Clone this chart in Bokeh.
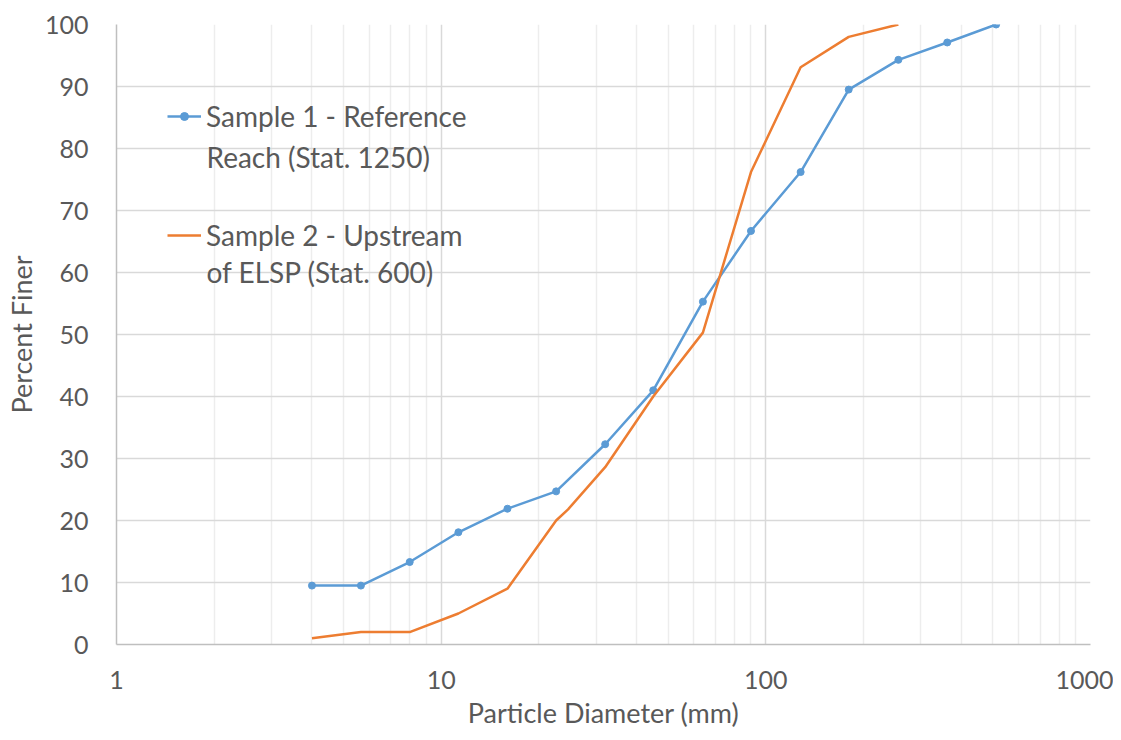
from bokeh.plotting import figure
from bokeh.models import FixedTicker, NumeralTickFormatter, Legend, LegendItem, Label
from bokeh.embed import file_html
from bokeh.resources import INLINE

# Data
s1_diam = [4, 5.66, 8, 11.3, 16, 22.6, 32, 45, 64, 90, 128, 180, 256, 362, 512]
s1_finer = [9.5, 9.5, 13.3, 18.1, 21.9, 24.7, 32.3, 41.0, 55.3, 66.7, 76.2, 89.5, 94.3, 97.1, 100]
s2_diam = [4, 5.66, 8, 11.3, 16, 22.6, 24.6, 32, 45, 64, 90, 128, 180, 256]
s2_finer = [1.0, 2.0, 2.0, 5.0, 9.0, 20.0, 21.8, 28.6, 40.0, 50.3, 76.2, 93.1, 98.0, 100]
s1_label = ["Sample 1 - Reference", "Reach (Stat. 1250)"]
s2_label = ["Sample 2 - Upstream", "of ELSP (Stat. 600)"]
x_major = [1, 10, 100, 1000]
x_minor = [m * d for d in [1, 10, 100] for m in range(2, 10)]
y_ticks = list(range(0, 101, 10))

FONT = "Lato"
TXT = "#595959"

W, H = 1113, 732
FL, FR, FT, FB = 116, 1090, 24, 644

p = figure(width=W, height=H, x_axis_type="log", x_range=(1, 1000), y_range=(0, 100),
           output_backend="svg", toolbar_location=None,
           min_border_left=FL, min_border_right=W - FR, min_border_top=FT, min_border_bottom=H - FB)
p.outline_line_color = None
p.background_fill_color = "white"

blue = "#5B9BD5"
orange = "#ED7D31"
l1 = p.line(s1_diam, s1_finer, line_color=blue, line_width=2.5)
c1 = p.scatter(s1_diam, s1_finer, size=7, fill_color=blue, line_color=blue)
l2 = p.line(s2_diam, s2_finer, line_color=orange, line_width=2.5)

# Axes
xt = FixedTicker(ticks=x_major, minor_ticks=x_minor)
p.xaxis.ticker = xt
p.xaxis.formatter = NumeralTickFormatter(format="0")
p.yaxis.ticker = FixedTicker(ticks=y_ticks)
for ax in (p.xaxis, p.yaxis):
    ax.major_label_text_font = FONT
    ax.major_label_text_font_size = "25px"
    ax.major_label_text_color = TXT
    ax.axis_label_text_font = FONT
    ax.axis_label_text_font_size = "27px"
    ax.axis_label_text_color = TXT
    ax.axis_label_text_font_style = "normal"
    ax.major_tick_line_color = None
    ax.minor_tick_line_color = None
    ax.axis_line_color = "#BFBFBF"
    ax.axis_line_width = 1.5
p.xaxis.axis_label = "Particle Diameter (mm)"
p.yaxis.axis_label = "Percent Finer"
p.xaxis.major_label_standoff = 20
p.yaxis.major_label_standoff = 22
p.xaxis.axis_label_standoff = 4
p.yaxis.axis_label_standoff = 4

p.xgrid.ticker = xt
p.xgrid.grid_line_color = "#D9D9D9"
p.xgrid.grid_line_width = 1.5
p.xgrid.minor_grid_line_color = "#EDEDED"
p.xgrid.minor_grid_line_width = 1.5
p.ygrid.grid_line_color = "#D9D9D9"
p.ygrid.grid_line_width = 1.5

# Legend (first line of each label in the legend, second line as a label below)
LEG_FS = 28
legend = Legend(items=[LegendItem(label=s1_label[0], renderers=[l1, c1]),
                       LegendItem(label=s2_label[0], renderers=[l2])],
                location=(51, 645 - 117 - 119 - 20))
legend.label_text_font = FONT
legend.label_text_font_size = f"{LEG_FS}px"
legend.label_text_color = TXT
legend.label_height = 40
legend.glyph_height = 20
legend.label_text_line_height = 1.0
legend.background_fill_alpha = 0
legend.border_line_color = None
legend.glyph_width = 34
legend.spacing = 79
legend.padding = 0
legend.margin = 0
legend.label_standoff = 5
p.add_layout(legend, "center")

for txt, ysc in ((s1_label[1], 157), (s2_label[1], 272)):
    p.add_layout(Label(x=207 - 117, y=645 - ysc, x_units="screen", y_units="screen", text=txt,
                       text_font=FONT, text_font_size=f"{LEG_FS}px", text_color=TXT,
                       text_baseline="middle", text_align="left"))

open("out.html", "w").write(file_html(p, INLINE))
